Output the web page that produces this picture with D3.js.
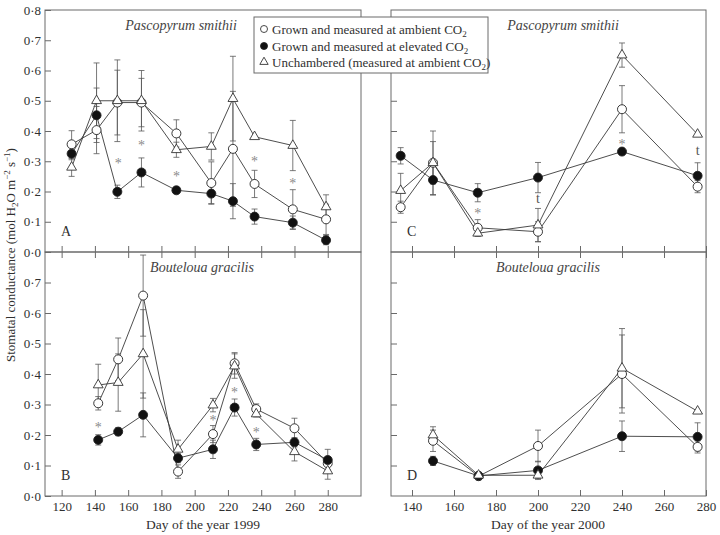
<!DOCTYPE html>
<html><head><meta charset="utf-8">
<script src="https://cdn.jsdelivr.net/npm/d3@7/dist/d3.min.js"></script>
<style>
html,body{margin:0;padding:0;background:#fff;}
svg{display:block;font-family:"Liberation Serif","Times New Roman",serif;}
</style></head>
<body><svg id="chart" width="720" height="535"></svg>
<script>
// ---------- DATA ----------
const legendLabels = ["Grown and measured at ambient CO", "Grown and measured at elevated CO", "Unchambered (measured at ambient CO"];
const yTicksTop = [0, 0.1, 0.2, 0.3, 0.4, 0.5, 0.6, 0.7, 0.8];
const yTicksBottom = [0, 0.1, 0.2, 0.3, 0.4, 0.5, 0.6, 0.7];
const yTicksInner = [0.1, 0.2, 0.3, 0.4, 0.5, 0.6, 0.7];
const xTicks1999 = [120, 140, 160, 180, 200, 220, 240, 260, 280];
const xTicks2000 = [140, 160, 180, 200, 220, 240, 260, 280];

// Panel A: Pascopyrum smithii, 1999
const daysA = [126, 141, 153.5, 168, 189, 210, 223, 236, 259, 279];
const ambA = [0.356, 0.403, 0.494, 0.494, 0.392, 0.228, 0.341, 0.225, 0.141, 0.108];
const ambAErr = [0.045, 0.078, 0.107, 0.08, 0.045, 0.07, 0.19, 0.045, 0.065, 0.05];
const elevA = [0.325, 0.452, 0.199, 0.263, 0.204, 0.193, 0.168, 0.117, 0.097, 0.039];
const elevAErr = [0.02, 0.09, 0.022, 0.048, 0.01, 0.033, 0.058, 0.025, 0.022, 0.015];
const unchA = [0.28, 0.50, 0.50, 0.50, 0.338, 0.349, 0.507, 0.381, 0.352, 0.149];
const unchAErr = [0.03, 0.125, 0.135, 0.10, 0.025, 0.045, 0.14, 0, 0.083, 0.04];
const starsA = [[154, 0.302, "*"], [168, 0.36, "*"], [189, 0.259, "*"], [236, 0.308, "*"], [259, 0.234, "*"]];

// Panel B: Bouteloua gracilis, 1999
const daysB = [142, 154, 169, 190, 211, 224, 237, 260, 280];
const ambB = [0.304, 0.448, 0.657, 0.080, 0.203, 0.435, 0.285, 0.222, 0.107];
const ambBErr = [0.022, 0.07, 0.133, 0.022, 0.028, 0.035, 0.017, 0.033, 0.02];
const elevB = [0.184, 0.211, 0.266, 0.124, 0.153, 0.29, 0.169, 0.176, 0.118];
const elevBErr = [0.017, 0.013, 0.072, 0.015, 0.03, 0.028, 0.02, 0.015, 0.035];
const unchB = [0.364, 0.372, 0.466, 0.153, 0.298, 0.426, 0.269, 0.145, 0.082];
const unchBErr = [0.068, 0.094, 0.145, 0.03, 0.022, 0.04, 0.01, 0.03, 0.027];
const starsB = [[142, 0.233, "*"], [211, 0.255, "*"], [224, 0.348, "*"], [237, 0.216, "*"]];

// Panel C: Pascopyrum smithii, 2000
const daysC = [134.6, 150, 171.3, 200, 240, 276];
const ambC = [0.148, 0.295, 0.08, 0.067, 0.472, 0.216];
const ambCErr = [0.02, 0.105, 0.027, 0.033, 0.078, 0.02];
const elevC = [0.318, 0.238, 0.196, 0.246, 0.332, 0.252];
const elevCErr = [0.027, 0.05, 0.03, 0.05, 0.01, 0.043];
const unchC = [0.203, 0.295, 0.062, 0.089, 0.651, 0.389];
const unchCErr = [0.057, 0.07, 0.01, 0.055, 0.04, 0];
const starsC = [[171.3, 0.136, "*"], [240, 0.363, "*"], [200, 0.174, "t"], [276, 0.335, "t"]];

// Panel D: Bouteloua gracilis, 2000
const daysD = [150, 171.7, 200, 240, 276];
const ambD = [0.181, 0.065, 0.164, 0.40, 0.161];
const ambDErr = [0.035, 0.012, 0.052, 0.128, 0.02];
const elevD = [0.115, 0.066, 0.084, 0.196, 0.194];
const elevDErr = [0.015, 0.01, 0.03, 0.05, 0.046];
const unchD = [0.2, 0.068, 0.068, 0.419, 0.278];
const unchDErr = [0.027, 0.01, 0.01, 0.13, 0];
const starsD = [];

// ---------- DRAW ----------
const svg = d3.select("#chart");
const TXT = "#303030", LINE = "#3a3a3a", BORDER = "#6a6a6a", ERR = "#585858", STAR = "#8a8a8a";
const fmt = d => d3.format(".1f")(d).replace(".", "\u00b7");

const panels = [
  {id:"A", sp:"Pascopyrum smithii", x0:45, x1:361, y0:10, y1:252, dom:[110,300], ticks:xTicks1999, yT:yTicksTop, yLabels:true, xLabels:false, topTicks:false,
   days:daysA, amb:ambA, ambE:ambAErr, elev:elevA, elevE:elevAErr, unch:unchA, unchE:unchAErr, stars:starsA, spX:181, spY:30, letY:236},
  {id:"B", sp:"Bouteloua gracilis", x0:45, x1:361, y0:252, y1:496, dom:[110,300], ticks:xTicks1999, yT:yTicksBottom, yLabels:true, xLabels:true, topTicks:true,
   days:daysB, amb:ambB, ambE:ambBErr, elev:elevB, elevE:elevBErr, unch:unchB, unchE:unchBErr, stars:starsB, spX:202, spY:272, letY:480},
  {id:"C", sp:"Pascopyrum smithii", x0:391, x1:706, y0:10, y1:252, dom:[130,280], ticks:xTicks2000, yT:yTicksInner, yLabels:false, xLabels:false, topTicks:false,
   days:daysC, amb:ambC, ambE:ambCErr, elev:elevC, elevE:elevCErr, unch:unchC, unchE:unchCErr, stars:starsC, spX:563, spY:30, letY:236},
  {id:"D", sp:"Bouteloua gracilis", x0:391, x1:706, y0:252, y1:496, dom:[130,280], ticks:xTicks2000, yT:yTicksInner, yLabels:false, xLabels:true, topTicks:true,
   days:daysD, amb:ambD, ambE:ambDErr, elev:elevD, elevE:elevDErr, unch:unchD, unchE:unchDErr, stars:starsD, spX:548, spY:272, letY:480}
];

const triPath = d3.symbol().type(d3.symbolTriangle).size(42)();
const triPathSmall = d3.symbol().type(d3.symbolTriangle).size(30)();

panels.forEach(p => {
  const x = d3.scaleLinear().domain(p.dom).range([p.x0, p.x1]);
  const y = d3.scaleLinear().domain([0, 0.8]).range([p.y1, p.y0]);
  const g = svg.append("g");

  // y axis (inward ticks)
  const ya = d3.axisLeft(y).tickValues(p.yT)
    .tickSizeInner(-6).tickSizeOuter(0).tickPadding(4)
    .tickFormat(p.yLabels ? fmt : "");
  const yg = g.append("g").attr("transform", `translate(${p.x0},0)`).call(ya);
  yg.select(".domain").remove();
  yg.selectAll("line").attr("stroke", BORDER);
  yg.selectAll("text").attr("fill", TXT).style("font-size", "13px").style("font-family", '"Liberation Serif",serif');

  // bottom x axis (inward)
  const xa = d3.axisBottom(x).tickValues(p.ticks).tickSizeInner(-6).tickSizeOuter(0).tickPadding(6)
    .tickFormat(p.xLabels ? d3.format("d") : "");
  const xg = g.append("g").attr("transform", `translate(0,${p.y1})`).call(xa);
  xg.select(".domain").remove();
  xg.selectAll("line").attr("stroke", BORDER);
  xg.selectAll("text").attr("fill", TXT).style("font-size", "13px").style("font-family", '"Liberation Serif",serif');

  if (p.topTicks) {
    const ta = d3.axisTop(x).tickValues(p.ticks).tickSizeInner(-6).tickSizeOuter(0).tickFormat("");
    const tg = g.append("g").attr("transform", `translate(0,${p.y0})`).call(ta);
    tg.select(".domain").remove();
    tg.selectAll("line").attr("stroke", BORDER);
  }

  // border
  g.append("rect").attr("x", p.x0).attr("y", p.y0).attr("width", p.x1 - p.x0).attr("height", p.y1 - p.y0)
    .attr("fill", "none").attr("stroke", BORDER).attr("stroke-width", 1);

  const series = [
    {v:p.amb, e:p.ambE, type:"open"},
    {v:p.elev, e:p.elevE, type:"filled"},
    {v:p.unch, e:p.unchE, type:"tri"}
  ];
  const line = d3.line().x(d => x(d[0])).y(d => y(d[1]));

  // lines
  series.forEach(s => {
    const pts = p.days.map((d, i) => [d, s.v[i]]);
    g.append("path").attr("d", line(pts)).attr("fill", "none").attr("stroke", LINE).attr("stroke-width", 0.9);
  });
  // error bars
  series.forEach(s => {
    p.days.forEach((d, i) => {
      const e = s.e[i];
      if (!e) return;
      const cx = x(d), yt = y(s.v[i] + e), yb = y(Math.max(0, s.v[i] - e));
      g.append("line").attr("x1", cx).attr("x2", cx).attr("y1", yt).attr("y2", yb).attr("stroke", ERR).attr("stroke-width", 0.8);
      [yt, yb].forEach(yy => g.append("line").attr("x1", cx - 3).attr("x2", cx + 3).attr("y1", yy).attr("y2", yy).attr("stroke", ERR).attr("stroke-width", 0.8));
    });
  });
  // markers
  series.forEach(s => {
    p.days.forEach((d, i) => {
      const cx = x(d), cy = y(s.v[i]);
      if (s.type === "tri") {
        g.append("path").attr("d", triPath).attr("transform", `translate(${cx},${cy})`)
          .attr("fill", "#fff").attr("stroke", "#333").attr("stroke-width", 0.9);
      } else {
        g.append("circle").attr("cx", cx).attr("cy", cy).attr("r", 4.5)
          .attr("fill", s.type === "open" ? "#fff" : "#111").attr("stroke", "#222").attr("stroke-width", 0.9);
      }
    });
  });
  // significance marks
  p.stars.forEach(s => {
    g.append("text").attr("x", x(s[0])).attr("y", y(s[1]) + (s[2] === "*" ? 7 : 4))
      .attr("text-anchor", "middle").attr("fill", s[2] === "*" ? STAR : "#555")
      .style("font-size", "14px").text(s[2]);
  });
  // species label
  g.append("text").attr("x", p.spX).attr("y", p.spY).attr("text-anchor", "middle")
    .attr("fill", "#444").style("font-size", "14px").style("font-style", "italic").text(p.sp);
  // panel letter
  g.append("text").attr("x", p.x0 + 16).attr("y", p.letY).attr("fill", TXT)
    .style("font-size", "14px").text(p.id);
});

// Axis titles
svg.append("text").attr("x", 203).attr("y", 529).attr("text-anchor", "middle").attr("fill", TXT)
  .style("font-size", "13.5px").text("Day of the year 1999");
svg.append("text").attr("x", 548).attr("y", 529).attr("text-anchor", "middle").attr("fill", TXT)
  .style("font-size", "13.5px").text("Day of the year 2000");

const yt = svg.append("text").attr("transform", "translate(15,255) rotate(-90)").attr("text-anchor", "middle")
  .attr("fill", TXT).style("font-size", "13px");
yt.append("tspan").text("Stomatal conductance (mol H");
yt.append("tspan").attr("dy", 3).style("font-size", "9px").text("2");
yt.append("tspan").attr("dy", -3).text("O m");
yt.append("tspan").attr("dy", -5).style("font-size", "9px").text("\u22122");
yt.append("tspan").attr("dy", 5).text(" s");
yt.append("tspan").attr("dy", -5).style("font-size", "9px").text("\u22121");
yt.append("tspan").attr("dy", 5).text(")");

// Legend
const lg = svg.append("g");
lg.append("rect").attr("x", 254).attr("y", 17).attr("width", 234).attr("height", 56)
  .attr("fill", "#fff").attr("stroke", BORDER).attr("stroke-width", 1);
const legY = [29, 46, 62];
legendLabels.forEach((lab, i) => {
  const cy = legY[i];
  if (i === 0) lg.append("circle").attr("cx", 264).attr("cy", cy).attr("r", 3.5).attr("fill", "#fff").attr("stroke", "#333").attr("stroke-width", 0.9);
  if (i === 1) lg.append("circle").attr("cx", 264).attr("cy", cy).attr("r", 3.5).attr("fill", "#111").attr("stroke", "#222").attr("stroke-width", 0.9);
  if (i === 2) lg.append("path").attr("d", triPathSmall).attr("transform", `translate(264,${cy})`).attr("fill", "#fff").attr("stroke", "#333").attr("stroke-width", 0.9);
  const t = lg.append("text").attr("x", 272).attr("y", cy + 4.5).attr("fill", TXT).style("font-size", "13px");
  t.append("tspan").text(lab);
  t.append("tspan").attr("dy", 3).style("font-size", "9px").text("2");
  if (i === 2) t.append("tspan").attr("dy", -3).text(")");
});
</script>
</body></html>
